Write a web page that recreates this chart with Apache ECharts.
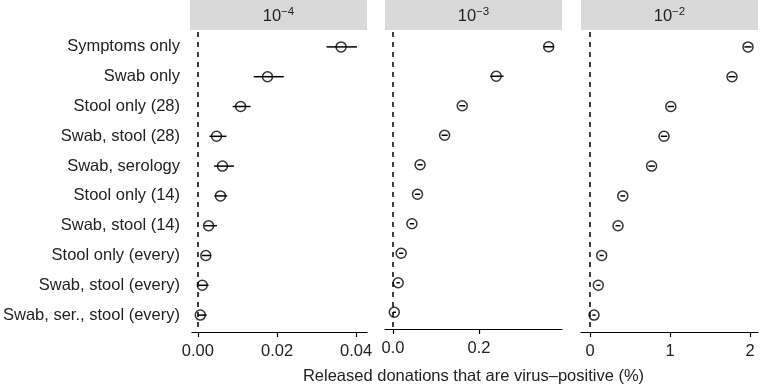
<!DOCTYPE html>
<html>
<head>
<meta charset="utf-8">
<script src="https://cdn.jsdelivr.net/npm/echarts@6/dist/echarts.min.js"></script>
<style>
  html, body { margin: 0; padding: 0; background: #fff; }
  #show_picture { width: 760px; height: 390px; }
</style>
</head>
<body>
<div id="show_picture"></div>
<script>
const categories = ['Symptoms only', 'Swab only', 'Stool only (28)', 'Swab, stool (28)', 'Swab, serology',
    'Stool only (14)', 'Swab, stool (14)', 'Stool only (every)', 'Swab, stool (every)', 'Swab, ser., stool (every)'];

// panel 10^-4
const est4 = [0.0362, 0.0176, 0.0108, 0.0047, 0.0062, 0.0057, 0.0027, 0.0020, 0.0011, 0.0006];
const lo4 = [0.0325, 0.0141, 0.0088, 0.0029, 0.0041, 0.0042, 0.0016, 0.0010, 0.0002, 0.0000];
const hi4 = [0.0402, 0.0217, 0.0133, 0.0072, 0.0091, 0.0074, 0.0048, 0.0033, 0.0027, 0.0022];

// panel 10^-3
const est3 = [0.362, 0.240, 0.161, 0.120, 0.063, 0.057, 0.044, 0.019, 0.012, 0.003];
const lo3 = [0.351, 0.226, 0.154, 0.113, 0.057, 0.051, 0.039, 0.014, 0.008, 0.000];
const hi3 = [0.374, 0.257, 0.168, 0.127, 0.069, 0.063, 0.049, 0.024, 0.016, 0.007];

// panel 10^-2
const est2 = [1.975, 1.775, 1.01, 0.925, 0.77, 0.41, 0.35, 0.146, 0.104, 0.05];
const lo2 = [1.93, 1.73, 0.97, 0.885, 0.73, 0.38, 0.32, 0.12, 0.08, 0.03];
const hi2 = [2.02, 1.82, 1.05, 0.965, 0.81, 0.44, 0.38, 0.17, 0.13, 0.07];

const panelNames = ['\u22124', '\u22123', '\u22122'];
const xTicks = [[0, 0.02, 0.04], [0, 0.2], [0, 1, 2]];
const xRange = [[-0.0015, 0.04275], [-0.0186, 0.393], [-0.1125, 2.1]];
const xFmt = [v => v.toFixed(2), v => v.toFixed(1), v => v.toFixed(0)];

let show_picture = document.getElementById('show_picture');
let myChart = echarts.init(show_picture);

const font = 'Liberation Sans';
const fs = 16.5;
const panelLeft = [190, 385, 581];
const panelWidth = 177;

let grids = [], xAxes = [], yAxes = [], series = [], graphics = [];
let panels = [[est4, lo4, hi4], [est3, lo3, hi3], [est2, lo2, hi2]];

panels.forEach((p, i) => {
    grids.push({ left: panelLeft[i], width: panelWidth, top: 32, height: 298 });
    xAxes.push({
        type: 'value', gridIndex: i, min: xRange[i][0], max: xRange[i][1],
        offset: 2,
        splitLine: { show: false },
        axisLine: { show: true, onZero: false, lineStyle: { color: '#000', width: 1.2 } },
        axisTick: { show: true, length: 5, lineStyle: { color: '#000', width: 1.2 }, customValues: xTicks[i] },
        axisLabel: { customValues: xTicks[i], formatter: xFmt[i], color: '#222', fontSize: fs, fontFamily: font, margin: 11 },
        name: i === 1 ? 'Released donations that are virus\u2013positive (%)' : '',
        nameLocation: 'middle', nameGap: 39,
        nameTextStyle: { color: '#222', fontSize: fs, fontFamily: font }
    });
    yAxes.push({
        type: 'category', gridIndex: i, data: categories, inverse: true,
        axisLine: { show: false }, axisTick: { show: false },
        axisLabel: { show: i === 0, color: '#222', fontSize: fs, fontFamily: font, margin: 12 }
    });
    series.push({
        type: 'custom', xAxisIndex: i, yAxisIndex: i,
        data: categories.map((c, k) => [k, p[1][k], p[2][k]]),
        renderItem: (params, api) => {
            let a = api.coord([api.value(1), api.value(0)]);
            let b = api.coord([api.value(2), api.value(0)]);
            return { type: 'line', shape: { x1: a[0], y1: a[1], x2: b[0], y2: b[1] },
                style: { stroke: '#000', lineWidth: 1.5 } };
        },
        silent: true, z: 3
    });
    series.push({
        type: 'scatter', xAxisIndex: i, yAxisIndex: i,
        data: categories.map((c, k) => [p[0][k], c]),
        symbol: 'circle', symbolSize: 10,
        itemStyle: { color: 'rgba(0,0,0,0)', borderColor: '#000', borderWidth: 1.5 },
        markLine: {
            silent: true, symbol: 'none', label: { show: false },
            lineStyle: { color: '#000', type: [5, 5], width: 1.5 },
            data: [{ xAxis: 0 }]
        },
        z: 4
    });
    graphics.push({
        type: 'rect', shape: { x: panelLeft[i], y: 0, width: panelWidth, height: 30 },
        style: { fill: '#d9d9d9' }
    });
    graphics.push({
        type: 'text', x: panelLeft[i] + panelWidth / 2, y: 16,
        style: {
            text: '{b|10}{s|' + panelNames[i] + '}',
            align: 'center', verticalAlign: 'middle',
            rich: {
                b: { fontSize: fs, fontFamily: font, fill: '#222', lineHeight: 20 },
                s: { fontSize: 11.5, fontFamily: font, fill: '#222', lineHeight: 20, padding: [0, 0, 9, 0] }
            }
        }
    });
});

let option = {
    animation: false,
    backgroundColor: '#fff',
    grid: grids,
    xAxis: xAxes,
    yAxis: yAxes,
    series: series,
    graphic: graphics
};

option && myChart.setOption(option);
</script>
</body>
</html>
